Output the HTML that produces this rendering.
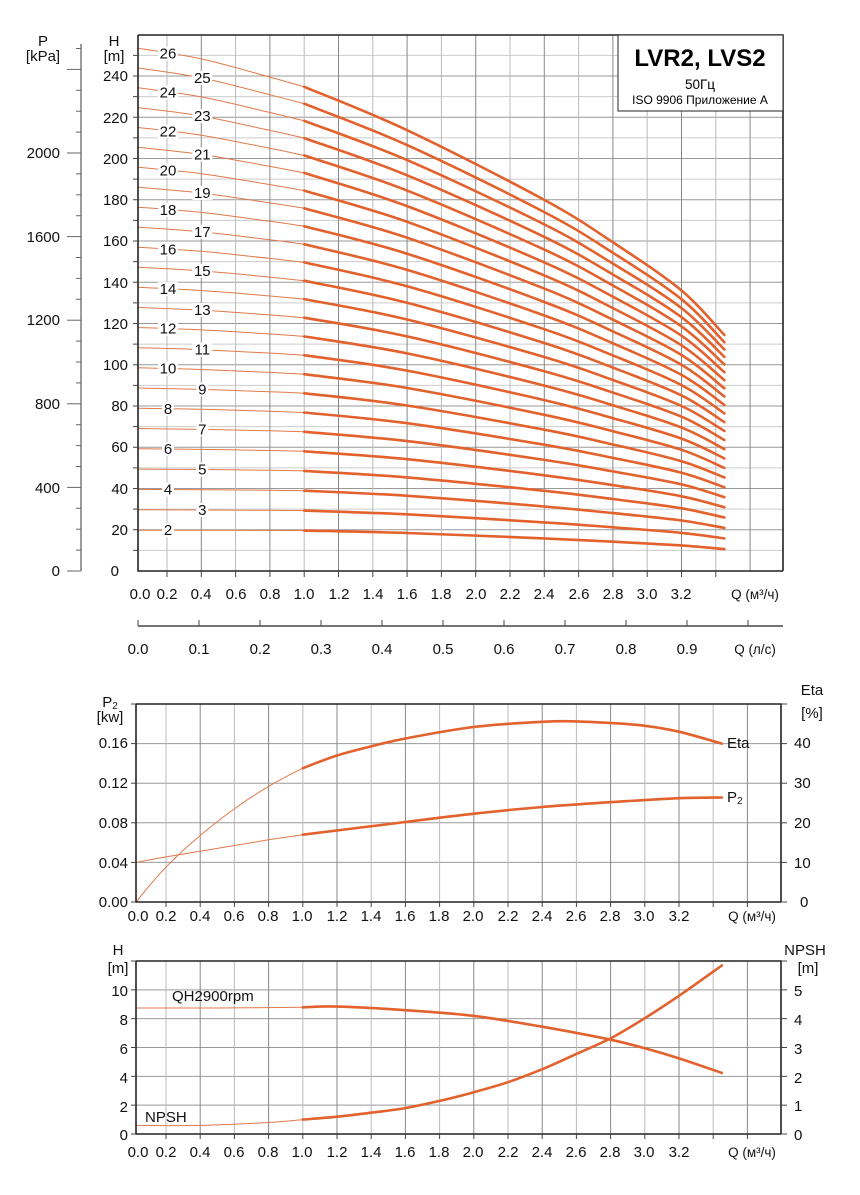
<!DOCTYPE html>
<html><head><meta charset="utf-8"><style>
html,body{margin:0;padding:0;background:#fff;}
svg{display:block;font-family:"Liberation Sans","DejaVu Sans",sans-serif;}
</style></head><body>
<svg id="s" width="860" height="1195" viewBox="0 0 860 1195" xmlns="http://www.w3.org/2000/svg">
<g id="grid"></g>
<g id="curves"></g>
<g id="frames" fill="none" stroke="#222" stroke-width="1.6">
<path d="M138,35 H783 V571 M138,35 V571 H783"/>
<path d="M136,704 H781 V902 M136,704 V902 H781"/>
<path d="M136,961 H781 V1134 M136,961 V1134 H781"/>
<path d="M81,44 V571" stroke="#666" stroke-width="1.3"/>
<path d="M138,626 H783" stroke-width="1.3"/>
</g>
<g id="ticks" stroke="#444" stroke-width="1"></g>
<g id="labels"></g>
<!-- title box -->
<rect x="618" y="35" width="165" height="76" fill="#fff" stroke="#222" stroke-width="1"/>
<text x="700" y="66" font-size="24" font-weight="bold" text-anchor="middle">LVR2, LVS2</text>
<text x="700" y="89" font-size="13.5" text-anchor="middle">50Гц</text>
<text x="700" y="104" font-size="12" text-anchor="middle">ISO 9906 Приложение A</text>
<g font-size="15" fill="#111">
<text x="43" y="46" text-anchor="middle">P</text>
<text x="43" y="61" text-anchor="middle">[kPa]</text>
<text x="114" y="46" text-anchor="middle">H</text>
<text x="114" y="61" text-anchor="middle">[m]</text>
<g text-anchor="end">
<text x="60" y="158">2000</text><text x="60" y="242">1600</text><text x="60" y="325">1200</text>
<text x="60" y="409">800</text><text x="60" y="493">400</text><text x="60" y="576">0</text>
<text x="128" y="81">240</text><text x="128" y="123">220</text><text x="128" y="164">200</text>
<text x="128" y="205">180</text><text x="128" y="246">160</text><text x="128" y="288">140</text>
<text x="128" y="329">120</text><text x="128" y="370">100</text><text x="128" y="411">80</text>
<text x="128" y="452">60</text><text x="128" y="494">40</text><text x="128" y="535">20</text>
<text x="119" y="576">0</text>
</g>
<g text-anchor="middle">
<text x="140" y="599">0.0</text><text x="167" y="599">0.2</text><text x="201" y="599">0.4</text>
<text x="236" y="599">0.6</text><text x="270" y="599">0.8</text><text x="304" y="599">1.0</text>
<text x="339" y="599">1.2</text><text x="373" y="599">1.4</text><text x="407" y="599">1.6</text>
<text x="441" y="599">1.8</text><text x="476" y="599">2.0</text><text x="510" y="599">2.2</text>
<text x="544" y="599">2.4</text><text x="579" y="599">2.6</text><text x="613" y="599">2.8</text>
<text x="647" y="599">3.0</text><text x="681" y="599">3.2</text>
<text x="755" y="599" font-size="13.5">Q (м³/ч)</text>
<text x="138" y="654">0.0</text><text x="199" y="654">0.1</text><text x="260" y="654">0.2</text>
<text x="321" y="654">0.3</text><text x="382" y="654">0.4</text><text x="443" y="654">0.5</text>
<text x="504" y="654">0.6</text><text x="565" y="654">0.7</text><text x="626" y="654">0.8</text>
<text x="687" y="654">0.9</text>
<text x="755" y="654" font-size="13.5">Q (л/с)</text>
</g>
<!-- middle -->
<text x="110" y="707" text-anchor="middle">P<tspan font-size="10" dy="2">2</tspan></text>
<text x="110" y="722" text-anchor="middle">[kw]</text>
<text x="812" y="695" text-anchor="middle">Eta</text>
<text x="812" y="718" text-anchor="middle">[%]</text>
<g text-anchor="end">
<text x="128" y="748">0.16</text><text x="128" y="788">0.12</text><text x="128" y="828">0.08</text>
<text x="128" y="868">0.04</text><text x="128" y="907">0.00</text>
<text x="128" y="996">10</text><text x="128" y="1025">8</text><text x="128" y="1054">6</text>
<text x="128" y="1083">4</text><text x="128" y="1112">2</text><text x="128" y="1140">0</text>
</g>
<g text-anchor="start">
<text x="794" y="748">40</text><text x="794" y="788">30</text><text x="794" y="828">20</text>
<text x="794" y="868">10</text><text x="800" y="907">0</text>
<text x="794" y="996">5</text><text x="794" y="1025">4</text><text x="794" y="1054">3</text>
<text x="794" y="1083">2</text><text x="794" y="1111">1</text><text x="794" y="1140">0</text>
<text x="727" y="748">Eta</text>
<text x="727" y="802">P<tspan font-size="10" dy="2">2</tspan></text>
<text x="172" y="1001">QH2900rpm</text>
<text x="145" y="1122">NPSH</text>
</g>
<text x="118" y="955" text-anchor="middle">H</text>
<text x="118" y="973" text-anchor="middle">[m]</text>
<text x="805" y="955" text-anchor="middle">NPSH</text>
<text x="808" y="973" text-anchor="middle">[m]</text>
<g text-anchor="middle" id="xl2">
<text x="138" y="921">0.0</text><text x="166" y="921">0.2</text><text x="200" y="921">0.4</text>
<text x="234" y="921">0.6</text><text x="268" y="921">0.8</text><text x="302" y="921">1.0</text>
<text x="337" y="921">1.2</text><text x="371" y="921">1.4</text><text x="405" y="921">1.6</text>
<text x="439" y="921">1.8</text><text x="473" y="921">2.0</text><text x="508" y="921">2.2</text>
<text x="542" y="921">2.4</text><text x="576" y="921">2.6</text><text x="610" y="921">2.8</text>
<text x="644" y="921">3.0</text><text x="679" y="921">3.2</text>
<text x="752" y="921" font-size="13.5">Q (м³/ч)</text>
<text x="138" y="1157">0.0</text><text x="166" y="1157">0.2</text><text x="200" y="1157">0.4</text>
<text x="234" y="1157">0.6</text><text x="268" y="1157">0.8</text><text x="302" y="1157">1.0</text>
<text x="337" y="1157">1.2</text><text x="371" y="1157">1.4</text><text x="405" y="1157">1.6</text>
<text x="439" y="1157">1.8</text><text x="473" y="1157">2.0</text><text x="508" y="1157">2.2</text>
<text x="542" y="1157">2.4</text><text x="576" y="1157">2.6</text><text x="610" y="1157">2.8</text>
<text x="644" y="1157">3.0</text><text x="679" y="1157">3.2</text>
<text x="752" y="1157" font-size="13.5">Q (м³/ч)</text>
</g>
<g id="stl" text-anchor="middle" font-size="15">
<text>2</text><text>3</text><text>4</text><text>5</text><text>6</text><text>7</text><text>8</text>
<text>9</text><text>10</text><text>11</text><text>12</text><text>13</text><text>14</text><text>15</text>
<text>16</text><text>17</text><text>18</text><text>19</text><text>20</text><text>21</text><text>22</text>
<text>23</text><text>24</text><text>25</text><text>26</text>
</g>
</g>
</svg>
<script>
(function(){
var NS="http://www.w3.org/2000/svg";
function el(p,tag,a){var e=document.createElementNS(NS,tag);for(var k in a)e.setAttribute(k,a[k]);p.appendChild(e);return e;}
var G=document.getElementById('grid'),C=document.getElementById('curves'),T=document.getElementById('ticks');
function X1(q){return q<0.2?138+q/0.2*29:167+(q-0.2)/0.2*34.3;}
function X2(q){return q<0.2?136+q/0.2*30:166+(q-0.2)/0.2*34.2;}
for(var h=10;h<260;h+=10){var y=571-h*2.0625;el(G,'line',{x1:138,x2:783,y1:y,y2:y,stroke:h%20?'#ccc':'#999','stroke-width':1});el(T,'line',{x1:133,x2:138,y1:y,y2:y});}
for(var k=1;k<=18;k++){var x=X1(k*0.2);el(G,'line',{x1:x,x2:x,y1:35,y2:571,stroke:k%2?'#bbb':'#888','stroke-width':1});}
for(var k=1;k<=17;k++){var x=X1(k*0.2);el(T,'line',{x1:x,x2:x,y1:571,y2:577});}
for(var p=0;p<=2500;p+=100){var y=571-p*0.209;el(T,'line',{x1:p%400?76:67,x2:81,y1:y,y2:y,stroke:'#666'});}
for(var k=0;k<=10;k++){var x=138+61*k;el(T,'line',{x1:x,x2:x,y1:620,y2:626});}
function lowGrid(top,bot,n){for(var i=1;i<n;i++){var y=bot-(bot-top)*i/n;el(G,'line',{x1:136,x2:781,y1:y,y2:y,stroke:'#999','stroke-width':1});}
 for(var k=1;k<=18;k++){var x=X2(k*0.2);el(G,'line',{x1:x,x2:x,y1:top,y2:bot,stroke:k%2?'#bbb':'#888','stroke-width':1});el(T,'line',{x1:x,x2:x,y1:bot,y2:bot+5});}
 for(var i=0;i<=n;i++){var y=bot-(bot-top)*i/n;el(T,'line',{x1:781,x2:787,y1:y,y2:y});el(T,'line',{x1:131,x2:136,y1:y,y2:y});}}
lowGrid(704,902,5);lowGrid(961,1134,6);
function cr(pts){var d='M'+pts[0][0].toFixed(1)+','+pts[0][1].toFixed(1);
 for(var i=0;i<pts.length-1;i++){var p0=pts[i-1]||pts[i],p1=pts[i],p2=pts[i+1],p3=pts[i+2]||p2;
 d+=' C'+(p1[0]+(p2[0]-p0[0])/6).toFixed(1)+','+(p1[1]+(p2[1]-p0[1])/6).toFixed(1)+' '+(p2[0]-(p3[0]-p1[0])/6).toFixed(1)+','+(p2[1]-(p3[1]-p1[1])/6).toFixed(1)+' '+p2[0].toFixed(1)+','+p2[1].toFixed(1);}return d;}
function draw(tab,X,Y){var a=[],b=[];tab.forEach(function(t){var p=[X(t[0]),Y(t[1])];if(t[0]<=1)a.push(p);if(t[0]>=1)b.push(p);});
 el(C,'path',{d:cr(a),fill:'none',stroke:'#e07a4a','stroke-width':1});
 el(C,'path',{d:cr(b),fill:'none',stroke:'#e2612c','stroke-width':2.6,'stroke-linecap':'round'});}
var Qs=[0,0.4,0.8,1,1.6,2.4,2.8,3.2,3.45];
var A=[9.9,9.88,9.84,9.8,9.2,7.9,7.1,6.2,5.3],B=[9.75,9.55,9.21,9.03,8.22,6.92,6.13,5.23,4.4];
function Y1(h){return 571-h*2.0625;}
var labs=document.getElementById('stl').children;
for(var n=2;n<=26;n++){var t=(n-2)/24,tab=[];
 for(var i=0;i<Qs.length;i++)tab.push([Qs[i],n*(A[i]*(1-t)+B[i]*t)]);
 draw(tab,X1,Y1);
 var q=n%2?0.4:0.2,hq=n*((A[0]+(A[1]-A[0])*q/0.4)*(1-t)+(B[0]+(B[1]-B[0])*q/0.4)*t);
 var lx=X1(q)+1,ly=Y1(hq);var w=n<10?12:20;
 el(C,'rect',{x:lx-w/2,y:ly-7,width:w,height:14,fill:'#fff'});
 var L=labs[n-2];L.setAttribute('x',lx);L.setAttribute('y',ly+5);}
function YE(e){return 902-e*3.96;}
draw([[0,0],[0.1,4.6],[0.2,8.8],[0.3,13],[0.4,16.8],[0.5,20.3],[0.6,23.5],[0.7,26.5],[0.8,29.2],[0.9,31.6],[1,33.8],[1.2,37],[1.4,39.3],[1.6,41.3],[2,44.2],[2.4,45.5],[2.6,45.6],[2.8,45.2],[3,44.5],[3.2,43],[3.45,40]],X2,YE);
draw([[0,10],[0.2,11.4],[0.4,12.8],[0.8,15.7],[1,17],[1.6,20.2],[2,22.3],[2.4,24],[2.8,25.2],[3.2,26.2],[3.45,26.4]],X2,YE);
function YH(h){return 1134-h*14.4;}function YN(h){return 1134-h*28.8;}
draw([[0,8.75],[0.5,8.75],[1,8.8],[1.2,8.85],[1.6,8.6],[2,8.2],[2.4,7.45],[2.8,6.55],[3,5.95],[3.2,5.25],[3.45,4.24]],X2,YH);
draw([[0,0.3],[0.4,0.3],[0.8,0.4],[1,0.5],[1.2,0.6],[1.4,0.74],[1.6,0.9],[1.8,1.15],[2,1.45],[2.2,1.8],[2.4,2.25],[2.6,2.78],[2.8,3.32],[3,4.02],[3.2,4.8],[3.45,5.85]],X2,YN);
})();
</script>
</body></html>
